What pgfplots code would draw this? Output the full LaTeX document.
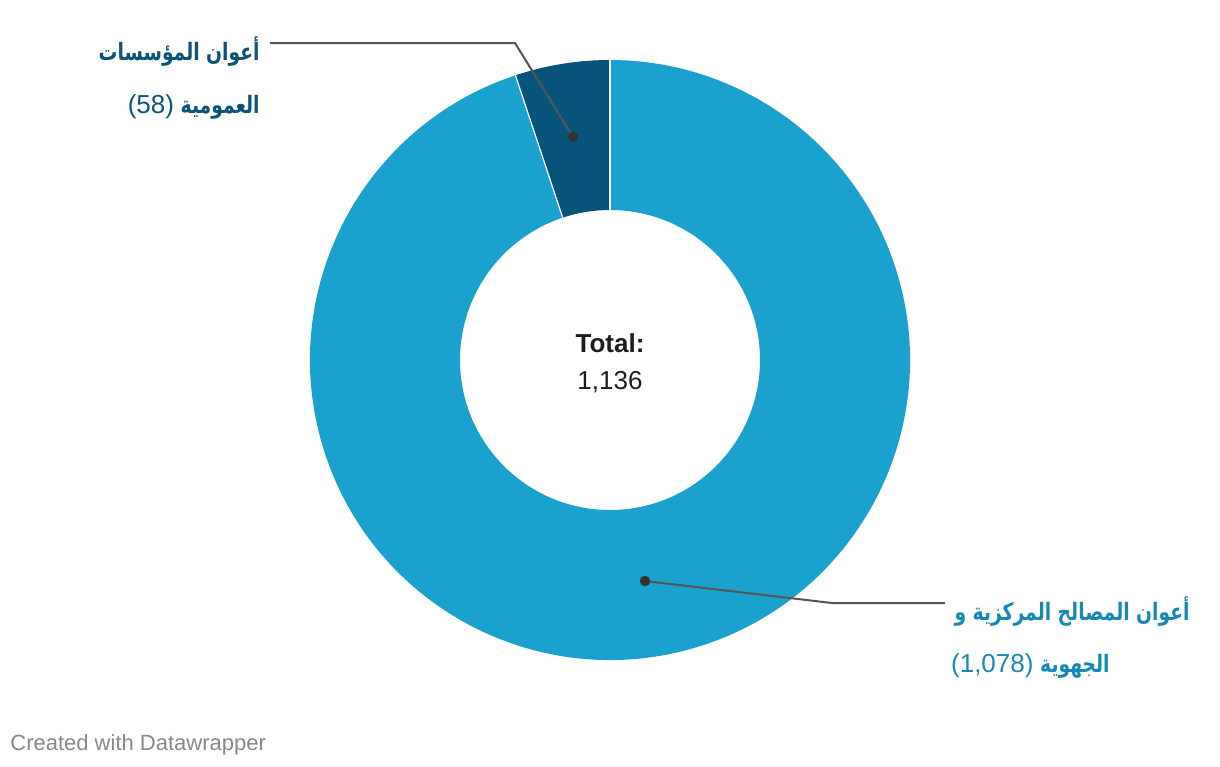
\documentclass[border=0pt]{standalone}
\usepackage{pgfplots}
\pgfplotsset{compat=1.18}
\usepackage{pgfplotstable}
\usepackage{fontspec}
\setmainfont{Liberation Sans}
\newfontfamily\arabicfont[Script=Arabic, FakeStretch=0.78]{DejaVu Sans}
\TeXXeTstate=1
\usetikzlibrary{calc}
\definecolor{bigc}{HTML}{1AA1CD}
\definecolor{smallc}{HTML}{08547A}
\definecolor{smalllab}{HTML}{0B5479}
\definecolor{biglab}{HTML}{1788B3}
\definecolor{leader}{HTML}{555555}
\definecolor{dotc}{HTML}{333333}
\definecolor{foot}{HTML}{888888}
\definecolor{totc}{HTML}{1D1D1D}

\pgfplotstableread{
label value
big 1078
small 58
}\datatable
\pgfplotstablegetelem{0}{value}\of\datatable \let\vA\pgfplotsretval
\pgfplotstablegetelem{1}{value}\of\datatable \let\vB\pgfplotsretval
\pgfmathsetmacro\total{\vA+\vB}
\pgfmathsetmacro\frac{\vB/\total}
\pgfmathsetmacro\angS{90+360*\frac}

\begin{document}
\begin{tikzpicture}
\begin{axis}[
  hide axis, scale only axis,
  width=610pt, height=383pt,
  xmin=0, xmax=1220, ymin=0, ymax=766,
  y dir=reverse, clip=false,
]
\coordinate (TL) at (axis cs:0,0);
\coordinate (BR) at (axis cs:1220,766);
\coordinate (C) at (axis cs:610,360);
% big slice
\fill[bigc] ($(C)+(\angS:150pt)$) arc[start angle=\angS, end angle=450, radius=150pt]
  -- ($(C)+(450:75pt)$) arc[start angle=450, end angle=\angS, radius=75pt] -- cycle;
% small slice
\fill[smallc] ($(C)+(90:150pt)$) arc[start angle=90, end angle=\angS, radius=150pt]
  -- ($(C)+(\angS:75pt)$) arc[start angle=\angS, end angle=90, radius=75pt] -- cycle;
\draw[white, line width=0.6pt] ($(C)+(90:75pt)$) -- ($(C)+(90:150pt)$);
\draw[white, line width=0.6pt] ($(C)+(\angS:75pt)$) -- ($(C)+(\angS:150pt)$);

% leader lines
\addplot[leader, line width=1pt, mark=none] coordinates {(270,43) (515,43) (573,137)};
\addplot[leader, line width=1pt, mark=none] coordinates {(645,581) (832,603) (945,603)};
\addplot[only marks, mark=*, mark size=2.4pt, dotc] coordinates {(573,137) (645,581)};

% center
\node[anchor=base, font=\fontsize{13}{15}\selectfont\bfseries, text=totc, inner sep=0pt] at (axis cs:610,352) {Total:};
\node[anchor=base, font=\fontsize{13}{15}\selectfont, text=totc, inner sep=0pt] at (axis cs:610,389) {1,136};

% top label
\node[anchor=base east, inner sep=0pt, text=smalllab, font=\fontsize{12}{15}\selectfont] at (axis cs:260,60)
  {\arabicfont\bfseries\beginR أعوان المؤسسات\endR};
\node[anchor=base east, inner sep=0pt, text=smalllab, font=\fontsize{12}{15}\selectfont] at (axis cs:260,113)
  {{\fontsize{13}{15}\selectfont(58)}\ {\arabicfont\bfseries\beginR العمومية\endR}};

% bottom label
\node[anchor=base east, inner sep=0pt, text=biglab, font=\fontsize{12}{15}\selectfont] at (axis cs:1190,620)
  {\arabicfont\bfseries\beginR أعوان المصالح المركزية و\endR};
\node[anchor=base east, inner sep=0pt, text=biglab, font=\fontsize{12}{15}\selectfont] at (axis cs:1110,672)
  {{\fontsize{13}{15}\selectfont(1,078)}\ {\arabicfont\bfseries\beginR الجهوية\endR}};

% footer
\node[anchor=base west, inner sep=0pt, text=foot, font=\fontsize{11}{13}\selectfont] at (axis cs:10,750) {Created with Datawrapper};
\end{axis}
\pgfresetboundingbox
\path (TL) rectangle (BR);
\end{tikzpicture}
\end{document}
